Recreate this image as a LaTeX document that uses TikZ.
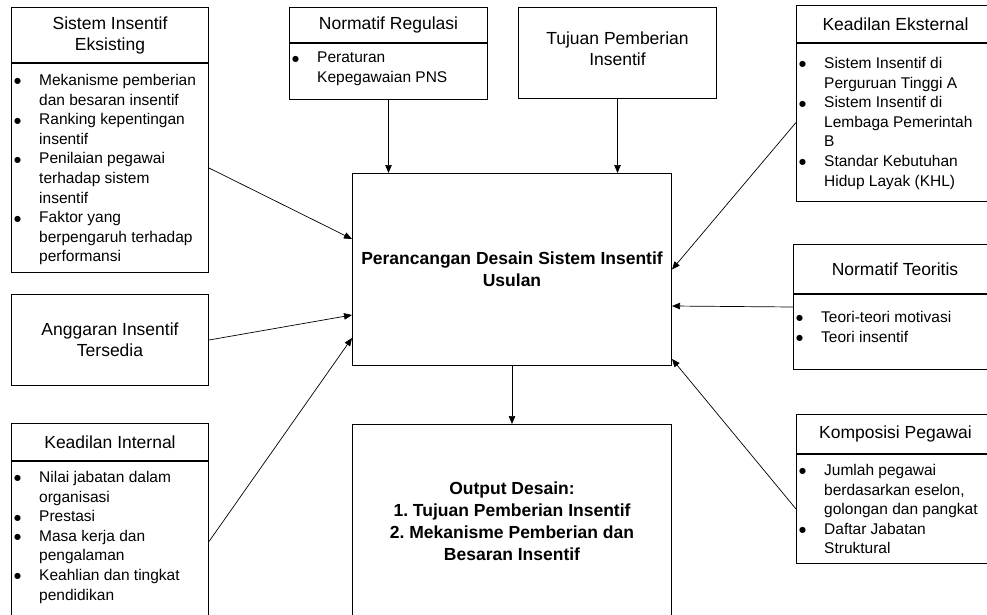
\documentclass[tikz,border=0pt]{standalone}
\usepackage{fontspec}
\setmainfont{Liberation Sans}
\newfontfamily\dotfont{DejaVu Sans}
\usetikzlibrary{positioning,arrows.meta,calc}

\newcommand{\hdrsize}{\fontsize{17.5}{21}\selectfont}
\newcommand{\lstsize}{\fontsize{15.5}{19.6}\selectfont}
\newcommand{\bldsize}{\fontsize{17.5}{22}\selectfont\bfseries}
\newcommand{\bul}{\makebox[26pt][l]{\hspace*{1pt}\raisebox{1.6pt}{\dotfont\fontsize{8}{8}\selectfont ●}}}
\newcommand{\ind}{\hspace*{26pt}}

\tikzset{
  box/.style={draw, line width=1pt, inner sep=0pt, align=center},
  hdr/.style={box, font=\hdrsize},
  lst/.style={inner sep=0pt, anchor=north west, align=left, font=\lstsize},
  arr/.style={-{Triangle[length=8pt,width=6.5pt]}, line width=0.7pt},
}

\begin{document}
\begin{tikzpicture}[x=1pt,y=-1pt]
\useasboundingbox (0,0) rectangle (987,615);
% kiri
\node[hdr, minimum width=197, minimum height=55, anchor=north west] (sie) at (11,7) {Sistem Insentif\\Eksisting};
\node[box, minimum width=197, minimum height=209, below=0pt of sie] (sieBody) {};
\node[lst] (sieList) at ($(sieBody.north west)+(2,11)$) {\bul Mekanisme pemberian\\\ind dan besaran insentif\\\bul Ranking kepentingan\\\ind insentif\\\bul Penilaian pegawai\\\ind terhadap sistem\\\ind insentif\\\bul Faktor yang\\\ind berpengaruh terhadap\\\ind performansi};
\node[hdr, minimum width=197, minimum height=91, anchor=north west] (ang) at (11,294) {Anggaran Insentif\\Tersedia};
\node[hdr, minimum width=197, minimum height=37, anchor=north west] (ki) at (11,423) {Keadilan Internal};
\node[box, minimum width=197, minimum height=160, below=0pt of ki] (kiBody) {};
\node[lst] (kiList) at ($(kiBody.north west)+(2,10)$) {\bul Nilai jabatan dalam\\\ind organisasi\\\bul Prestasi\\\bul Masa kerja dan\\\ind pengalaman\\\bul Keahlian dan tingkat\\\ind pendidikan};
% atas
\node[hdr, minimum width=198, minimum height=35, anchor=north west] (reg) at (289,7) {Normatif Regulasi};
\node[box, minimum width=198, minimum height=56, below=0pt of reg] (regBody) {};
\node[lst] (regList) at ($(regBody.north west)+(2,9)$) {\bul Peraturan\\\ind Kepegawaian PNS};
\node[hdr, minimum width=198, minimum height=91, anchor=north west] (tuj) at (518,7) {Tujuan Pemberian\\Insentif\\[-12pt]\mbox{}};
% tengah
\node[box, font=\bldsize, minimum width=319, minimum height=192, anchor=north west] (pcd) at (352,173) {Perancangan Desain Sistem Insentif\\Usulan};
\node[box, font=\bldsize, minimum width=319, minimum height=193, anchor=north west] (out) at (352,424) {Output Desain:\\1.\ Tujuan Pemberian Insentif\\2.\ Mekanisme Pemberian dan\\Besaran Insentif};
% kanan
\node[hdr, minimum width=198, minimum height=37, anchor=north west] (ke) at (796,5) {Keadilan Eksternal};
\node[box, minimum width=198, minimum height=158, below=0pt of ke] (keBody) {};
\node[lst] (keList) at ($(keBody.north west)+(2,14)$) {\bul Sistem Insentif di\\\ind Perguruan Tinggi A\\\bul Sistem Insentif di\\\ind Lembaga Pemerintah\\\ind B\\\bul Standar Kebutuhan\\\ind Hidup Layak (KHL)};
\node[hdr, minimum width=203, minimum height=49, anchor=north west] (nt) at (793,244) {Normatif Teoritis};
\node[box, minimum width=203, minimum height=75, below=0pt of nt] (ntBody) {};
\node[lst] (ntList) at ($(ntBody.north west)+(2,17)$) {\bul Teori-teori motivasi\\\bul Teori insentif};
\node[hdr, minimum width=198, minimum height=39, anchor=north west] (kp) at (796,414) {Komposisi Pegawai};
\node[box, minimum width=198, minimum height=109, below=0pt of kp] (kpBody) {};
\node[lst] (kpList) at ($(kpBody.north west)+(2,10)$) {\bul Jumlah pegawai\\\ind berdasarkan eselon,\\\ind golongan dan pangkat\\\bul Daftar Jabatan\\\ind Struktural};
% panah
\draw[arr] (sieBody.east) -- ($(pcd.north west)+(0,66)$);
\draw[arr] (ang.east) -- ($(pcd.south west)+(0,-51)$);
\draw[arr] (kiBody.east) -- ($(pcd.south west)+(0,-28)$);
\draw[arr] (regBody.south) -- (regBody.south |- pcd.north);
\draw[arr] (tuj.south) -- (tuj.south |- pcd.north);
\draw[arr] (keBody.west) -- (pcd.east);
\draw[arr] ($(ntBody.north west)+(0,13)$) -- ($(pcd.north east)+(0,133)$);
\draw[arr] (kpBody.west) -- ($(pcd.south east)+(0,-7)$);
\draw[arr] (pcd.south) -- (out.north);
\end{tikzpicture}
\end{document}
